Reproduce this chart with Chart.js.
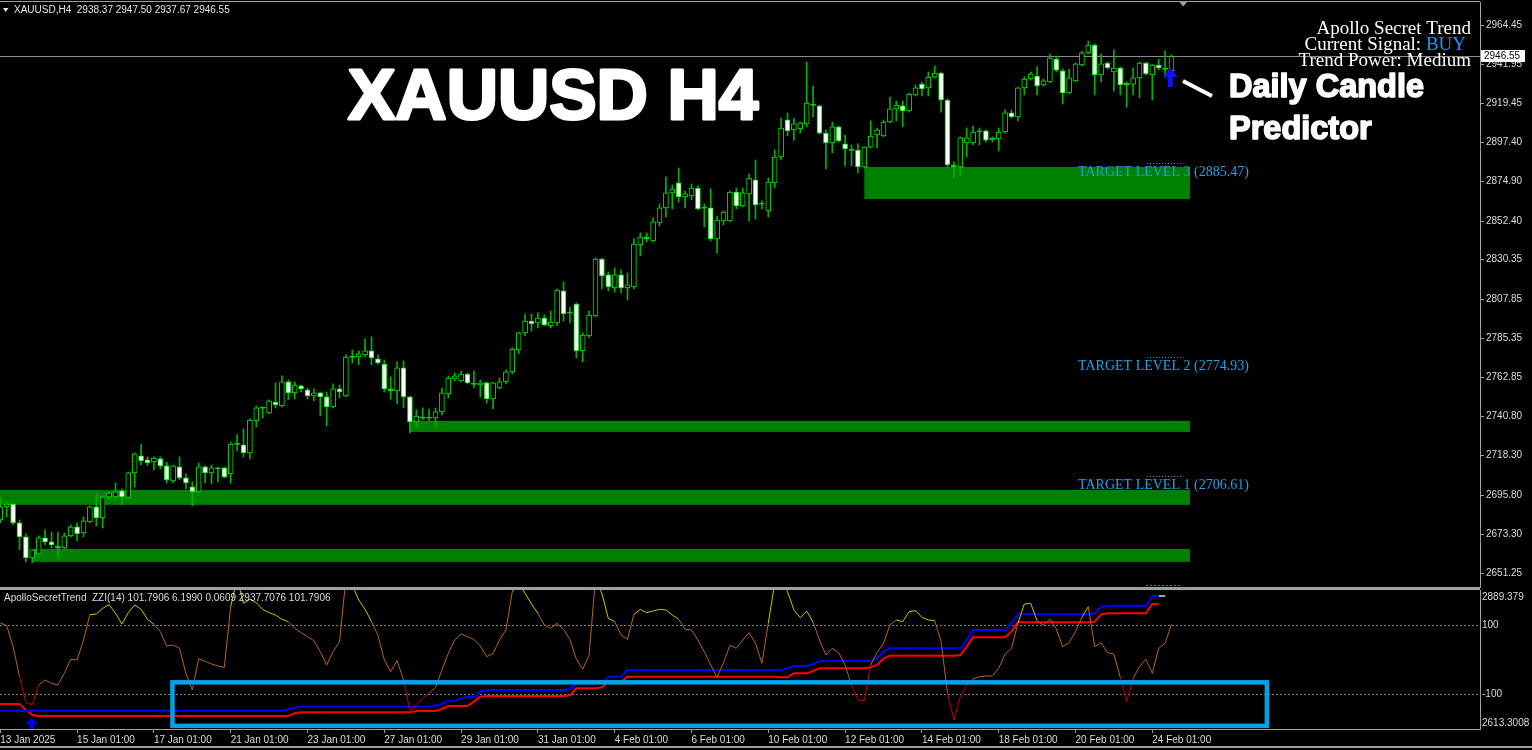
<!DOCTYPE html>
<html>
<head>
<meta charset="utf-8">
<title>XAUUSD H4</title>
<script src="https://cdn.jsdelivr.net/npm/chart.js@4.4.1/dist/chart.umd.min.js"></script>
<style>
    html, body { margin: 0; padding: 0; background: #000; }
    #wrap { position: relative; width: 1532px; height: 750px; background: #000; overflow: hidden; }
    canvas { position: absolute; left: 0; }
</style>
</head>
<body>
<div id="wrap">
    <canvas id="main" width="1532" height="589" style="top:0"></canvas>
    <canvas id="ind" width="1532" height="161" style="top:589px"></canvas>
</div>
<script>
// H4 candles, 13 Jan 2025 01:00 .. 24 Feb 2025 13:00
const opens = [
    2681.6, 2689.0, 2690.7, 2679.9, 2671.9, 2659.9, 2662.2, 2671.3, 2669.0, 2666.7,
    2665.6, 2672.5, 2677.6, 2674.2, 2680.5, 2689.0, 2682.7, 2694.7, 2694.7, 2698.2,
    2694.2, 2708.5, 2718.2, 2715.9, 2714.7, 2716.5, 2712.5, 2703.9, 2711.9, 2705.6,
    2700.5, 2697.6, 2711.9, 2708.5, 2711.3, 2711.3, 2707.9, 2725.0, 2724.5, 2719.9,
    2738.2, 2745.6, 2742.7, 2749.0, 2746.7, 2760.5, 2754.2, 2758.2, 2755.9, 2752.5,
    2754.2, 2751.9, 2746.2, 2756.5, 2752.5, 2774.7, 2774.7, 2775.9, 2778.2, 2773.6,
    2770.7, 2756.5, 2755.3, 2768.5, 2751.9, 2737.6, 2739.9, 2739.7, 2739.9, 2743.3,
    2753.6, 2762.2, 2761.0, 2765.0, 2759.3, 2758.7, 2759.9, 2750.7, 2757.0, 2760.5,
    2766.2, 2778.7, 2788.5, 2795.3, 2794.2, 2797.0, 2792.5, 2794.2, 2812.5, 2799.9,
    2805.0, 2778.2, 2786.7, 2798.2, 2830.7, 2821.6, 2814.2, 2821.6, 2814.2, 2814.7,
    2838.7, 2843.3, 2841.0, 2851.3, 2859.9, 2868.5, 2874.2, 2866.2, 2866.7, 2871.3,
    2859.9, 2859.9, 2842.2, 2852.5, 2852.5, 2869.0, 2861.0, 2867.9, 2875.9, 2862.2,
    2858.2, 2874.2, 2889.0, 2910.2, 2904.5, 2905.0, 2907.9, 2918.7, 2918.2, 2902.7,
    2897.0, 2906.2, 2896.5, 2893.0, 2893.0, 2883.3, 2894.7, 2901.6, 2901.0, 2909.0,
    2916.5, 2918.2, 2915.3, 2924.5, 2930.7, 2928.5, 2934.7, 2937.0, 2921.6, 2884.5,
    2883.3, 2897.0, 2897.0, 2903.9, 2903.9, 2899.3, 2899.3, 2903.3, 2914.2, 2911.9,
    2928.5, 2933.6, 2935.3, 2930.2, 2931.9, 2945.0, 2938.2, 2925.6, 2932.5, 2941.6,
    2948.5, 2953.0, 2935.9, 2942.7, 2937.6, 2939.9, 2930.2, 2930.7, 2934.2, 2942.7,
    2935.9, 2941.6, 2939.3, 2938.37
];
const highs = [
    2694.2, 2691.9, 2691.3, 2681.6, 2673.6, 2664.5, 2672.5, 2675.9, 2674.7, 2674.7,
    2674.2, 2678.7, 2679.9, 2683.3, 2689.6, 2696.5, 2695.3, 2697.6, 2702.7, 2699.3,
    2709.0, 2719.9, 2725.0, 2717.6, 2717.6, 2717.6, 2714.7, 2713.0, 2717.6, 2707.9,
    2703.3, 2714.2, 2712.5, 2713.0, 2711.8, 2711.8, 2726.2, 2730.2, 2733.6, 2739.3,
    2746.7, 2746.2, 2750.2, 2759.9, 2763.9, 2761.6, 2760.5, 2758.7, 2757.0, 2756.5,
    2754.7, 2754.7, 2759.3, 2758.7, 2775.9, 2778.7, 2778.2, 2785.0, 2786.2, 2775.9,
    2773.0, 2763.3, 2771.9, 2772.5, 2752.4, 2744.5, 2745.6, 2745.0, 2745.6, 2757.0,
    2763.9, 2765.6, 2766.7, 2765.6, 2766.7, 2761.6, 2760.4, 2760.2, 2762.7, 2767.3,
    2779.9, 2789.0, 2799.3, 2799.3, 2799.9, 2798.7, 2801.0, 2813.6, 2817.6, 2803.3,
    2805.6, 2788.5, 2801.0, 2831.3, 2831.3, 2823.3, 2825.6, 2824.5, 2822.7, 2842.2,
    2845.6, 2845.6, 2854.2, 2862.2, 2877.6, 2873.0, 2882.7, 2869.6, 2873.6, 2872.5,
    2862.2, 2870.7, 2855.3, 2858.2, 2869.6, 2871.3, 2871.3, 2879.3, 2887.3, 2863.9,
    2877.0, 2893.0, 2911.3, 2914.2, 2911.3, 2909.0, 2943.3, 2929.6, 2918.7, 2904.5,
    2909.0, 2906.7, 2901.6, 2895.9, 2896.5, 2894.9, 2909.6, 2905.6, 2910.2, 2923.3,
    2921.0, 2921.0, 2925.6, 2930.2, 2931.9, 2937.6, 2941.0, 2937.6, 2922.2, 2886.2,
    2900.5, 2905.6, 2906.7, 2905.6, 2904.5, 2900.5, 2905.6, 2915.9, 2915.9, 2929.0,
    2934.7, 2937.6, 2940.5, 2933.6, 2947.9, 2946.7, 2939.3, 2939.3, 2942.7, 2949.6,
    2955.3, 2953.6, 2947.9, 2943.3, 2950.2, 2940.5, 2931.9, 2939.9, 2943.3, 2943.3,
    2941.9, 2945.0, 2949.6, 2947.50
];
const lows = [
    2679.9, 2683.3, 2678.7, 2664.5, 2657.6, 2657.0, 2661.6, 2667.3, 2665.6, 2659.9,
    2665.0, 2671.9, 2669.6, 2671.9, 2679.9, 2678.2, 2677.0, 2693.0, 2693.0, 2690.2,
    2693.8, 2700.5, 2713.0, 2712.5, 2710.2, 2710.7, 2702.7, 2702.7, 2704.5, 2699.3,
    2689.6, 2697.0, 2702.7, 2702.2, 2703.3, 2705.6, 2702.7, 2721.0, 2717.6, 2716.5,
    2734.7, 2739.9, 2742.2, 2745.6, 2746.2, 2750.2, 2750.7, 2754.7, 2750.7, 2749.6,
    2741.0, 2735.3, 2745.8, 2751.3, 2752.0, 2771.3, 2770.2, 2774.7, 2770.2, 2770.7,
    2754.7, 2750.7, 2747.9, 2745.6, 2731.3, 2734.7, 2738.7, 2738.2, 2734.7, 2741.6,
    2751.3, 2761.0, 2760.5, 2759.3, 2757.0, 2751.9, 2748.5, 2745.0, 2756.5, 2759.3,
    2765.0, 2776.5, 2786.7, 2789.6, 2791.3, 2792.5, 2791.3, 2792.5, 2795.3, 2794.2,
    2774.2, 2771.9, 2785.6, 2797.8, 2813.6, 2812.5, 2811.9, 2811.3, 2807.3, 2813.6,
    2832.5, 2840.5, 2840.5, 2849.6, 2854.7, 2859.3, 2863.3, 2859.9, 2864.5, 2858.7,
    2849.0, 2841.0, 2834.2, 2850.2, 2852.0, 2859.3, 2860.5, 2852.5, 2853.6, 2859.3,
    2854.7, 2871.3, 2887.3, 2901.0, 2898.7, 2902.7, 2906.2, 2911.9, 2902.2, 2882.2,
    2891.3, 2897.6, 2883.9, 2883.9, 2879.9, 2882.7, 2894.2, 2894.2, 2900.5, 2908.5,
    2909.6, 2906.2, 2914.7, 2923.9, 2923.9, 2923.9, 2934.2, 2914.7, 2883.3, 2877.0,
    2878.7, 2889.0, 2895.9, 2895.9, 2897.6, 2897.6, 2892.5, 2902.7, 2911.3, 2909.6,
    2924.5, 2933.0, 2924.5, 2929.6, 2931.5, 2937.6, 2919.3, 2925.0, 2931.9, 2941.0,
    2947.9, 2924.5, 2931.9, 2939.3, 2926.7, 2924.5, 2917.6, 2924.5, 2922.7, 2935.9,
    2921.6, 2938.7, 2934.7, 2937.67
];
const closes = [
    2689.0, 2690.7, 2679.9, 2671.9, 2659.9, 2664.5, 2671.3, 2669.0, 2667.3, 2665.6,
    2672.5, 2677.6, 2673.6, 2681.0, 2689.0, 2682.7, 2694.7, 2697.0, 2697.6, 2694.7,
    2708.5, 2719.3, 2715.3, 2714.2, 2717.0, 2712.5, 2704.5, 2712.5, 2705.6, 2702.7,
    2697.6, 2711.9, 2708.5, 2711.3, 2710.7, 2706.2, 2725.0, 2724.8, 2719.9, 2738.7,
    2745.6, 2745.4, 2749.6, 2747.3, 2760.5, 2754.2, 2758.7, 2756.5, 2752.5, 2754.2,
    2751.9, 2746.2, 2756.5, 2754.7, 2774.7, 2774.5, 2776.5, 2778.2, 2774.2, 2771.3,
    2756.5, 2755.3, 2768.5, 2751.9, 2737.6, 2741.0, 2739.7, 2739.9, 2743.3, 2754.2,
    2762.7, 2763.9, 2765.0, 2759.9, 2759.1, 2759.9, 2750.7, 2759.9, 2760.5, 2766.2,
    2779.3, 2788.5, 2795.3, 2793.6, 2797.0, 2793.0, 2794.7, 2813.0, 2799.3, 2799.7,
    2778.2, 2787.3, 2798.7, 2830.7, 2821.0, 2814.7, 2821.6, 2814.2, 2815.9, 2839.3,
    2843.3, 2842.2, 2851.9, 2859.9, 2868.5, 2870.7, 2866.2, 2867.9, 2871.3, 2859.3,
    2859.7, 2842.2, 2853.0, 2857.6, 2869.0, 2861.0, 2868.5, 2877.0, 2861.6, 2862.0,
    2874.7, 2889.0, 2905.6, 2903.9, 2907.9, 2908.5, 2919.9, 2918.5, 2902.7, 2897.0,
    2906.2, 2898.2, 2893.6, 2892.8, 2883.3, 2894.7, 2901.0, 2904.5, 2909.0, 2916.5,
    2918.7, 2915.3, 2925.0, 2928.5, 2927.9, 2934.7, 2937.0, 2921.6, 2884.5, 2883.3,
    2899.9, 2899.9, 2903.3, 2903.3, 2898.7, 2899.1, 2903.3, 2914.2, 2911.9, 2928.5,
    2933.6, 2936.5, 2929.6, 2932.5, 2945.6, 2938.7, 2925.6, 2934.2, 2942.2, 2948.5,
    2953.0, 2935.9, 2942.2, 2939.9, 2939.9, 2930.2, 2931.3, 2934.2, 2942.7, 2936.5,
    2941.6, 2939.9, 2939.1, 2946.55
];

// ApolloSecretTrend window: ZZI oscillator and the two trend lines
const zzi = [
    105.8, 98.1, 37.2, -49.7, -125.0, -131.0, -73.9, -59.4, -69.1, -73.9,
    -40.1, 0.5, -1.4, 56.5, 129.9, 131.9, 148.3, 158.9, 133.8, 102.9,
    135.7, 158.0, 145.4, 116.4, 101.9, 80.7, 39.1, 42.0, 32.4, -40.1,
    -88.4, 2.4, -5.3, -13.0, -18.8, -22.7, 153.1, 235.0, 162.8, 174.4,
    164.7, 145.4, 135.7, 129.0, 116.4, 109.7, 90.3, 77.8, 66.2, 54.6,
    22.7, -15.9, 22.7, 51.7, 235.0, 215.9, 172.4, 145.4, 109.7, 71.0,
    -1.4, -35.3, -3.4, -59.4, -148.3, -131.9, -112.5, -98.0, -80.7, -30.4,
    17.9, 56.5, 73.9, 66.2, 58.4, 39.1, 8.2, 17.9, 56.5, 85.5,
    196.6, 225.6, 191.8, 160.8, 133.8, 100.0, 90.3, 104.8, 87.4, 58.4,
    1.5, -28.5, 13.1, 235.0, 191.8, 119.3, 109.7, 71.0, 58.4, 130.9,
    145.4, 135.7, 140.6, 145.4, 143.5, 129.0, 116.4, 87.4, 85.5, 56.5,
    22.7, -15.9, -51.7, -9.2, 41.1, 32.4, 56.5, 77.8, 46.9, -11.1,
    104.8, 220.7, 235.0, 196.6, 143.5, 121.2, 140.6, 107.7, 56.5, 13.1,
    32.4, 19.8, -15.9, -73.9, -117.4, -119.3, -15.9, 19.8, 46.9, 100.0,
    114.5, 109.7, 138.6, 141.5, 122.2, 114.5, 112.5, 51.7, -98.0, -175.3,
    -107.7, -73.9, -56.5, -49.7, -47.8, -47.8, -25.6, 16.0, 32.4, 104.8,
    160.8, 162.8, 112.5, 100.0, 117.4, 88.4, 37.2, 48.8, 80.7, 122.2,
    153.1, 37.2, 48.8, 19.8, 16.0, -51.7, -122.2, -54.6, -20.8, 0.5,
    -40.1, 32.4, 46.9, 101.79
];
const trendBlue = [
    2649.7, 2649.7, 2649.7, 2649.7, 2649.7, 2649.7, 2649.7, 2649.7, 2649.7, 2649.7,
    2649.7, 2649.7, 2649.7, 2649.7, 2649.7, 2649.7, 2649.7, 2649.7, 2649.7, 2649.7,
    2649.7, 2649.7, 2649.7, 2649.7, 2649.7, 2649.7, 2649.7, 2649.7, 2649.7, 2649.7,
    2649.7, 2649.7, 2649.7, 2649.7, 2649.7, 2649.7, 2649.7, 2649.7, 2649.7, 2649.7,
    2649.7, 2649.7, 2649.7, 2649.7, 2649.7, 2652.4, 2655.7, 2657.7, 2657.7, 2657.7,
    2657.7, 2657.7, 2657.7, 2657.7, 2657.7, 2657.7, 2657.7, 2657.7, 2657.7, 2657.7,
    2657.7, 2657.7, 2657.7, 2657.7, 2657.7, 2657.7, 2657.7, 2657.7, 2660.3, 2663.0,
    2669.6, 2669.6, 2674.2, 2677.5, 2677.5, 2687.5, 2690.8, 2690.8, 2690.8, 2690.8,
    2690.8, 2690.8, 2690.8, 2690.8, 2690.8, 2690.8, 2690.8, 2690.8, 2690.8, 2692.1,
    2704.0, 2704.0, 2704.0, 2704.0, 2704.0, 2717.2, 2717.2, 2717.2, 2730.5, 2730.5,
    2730.5, 2730.5, 2730.5, 2730.5, 2730.5, 2730.5, 2730.5, 2730.5, 2730.5, 2730.5,
    2730.5, 2730.5, 2730.5, 2730.5, 2730.5, 2730.5, 2730.5, 2730.5, 2730.5, 2730.5,
    2730.5, 2730.5, 2730.5, 2733.8, 2738.4, 2738.4, 2738.4, 2742.4, 2748.4, 2748.4,
    2748.4, 2748.4, 2748.4, 2748.4, 2748.4, 2748.4, 2748.4, 2753.7, 2766.9, 2773.5,
    2773.5, 2773.5, 2773.5, 2773.5, 2773.5, 2773.5, 2773.5, 2773.5, 2773.5, 2773.5,
    2773.5, 2790.1, 2809.9, 2809.9, 2809.9, 2809.9, 2809.9, 2809.9, 2823.2, 2841.0,
    2841.0, 2841.0, 2841.0, 2841.0, 2841.0, 2841.0, 2841.0, 2841.0, 2841.0, 2841.0,
    2841.0, 2843.0, 2856.3, 2858.3, 2858.3, 2858.3, 2858.3, 2858.3, 2858.3, 2858.3,
    2877.5, 2877.5, null, null
];
const trendRed = [
    2662.9, 2662.9, 2662.9, 2662.9, 2651.0, 2641.1, 2639.1, 2639.1, 2639.1, 2639.1,
    2639.1, 2639.1, 2639.1, 2639.1, 2639.1, 2639.1, 2639.1, 2639.1, 2639.1, 2639.1,
    2639.1, 2639.1, 2639.1, 2639.1, 2639.1, 2639.1, 2639.1, 2639.1, 2639.1, 2639.1,
    2639.1, 2639.1, 2639.1, 2639.1, 2639.1, 2639.1, 2639.1, 2639.1, 2639.1, 2639.1,
    2639.1, 2639.1, 2639.1, 2639.1, 2639.1, 2639.1, 2644.4, 2646.4, 2646.4, 2646.4,
    2646.4, 2646.4, 2646.4, 2646.4, 2646.4, 2646.4, 2646.4, 2646.4, 2646.4, 2646.4,
    2646.4, 2646.4, 2646.4, 2646.4, 2646.4, 2649.1, 2649.1, 2649.1, 2649.1, 2653.0,
    2659.0, 2659.0, 2659.0, 2659.0, 2667.6, 2677.5, 2678.8, 2678.8, 2678.8, 2678.8,
    2678.8, 2678.8, 2678.8, 2678.8, 2678.8, 2678.8, 2678.8, 2678.8, 2678.8, 2680.2,
    2694.1, 2694.1, 2694.1, 2694.1, 2696.1, 2707.3, 2707.3, 2707.3, 2717.2, 2717.2,
    2717.2, 2717.2, 2717.2, 2717.2, 2717.2, 2717.2, 2717.2, 2717.2, 2717.2, 2717.2,
    2717.2, 2717.2, 2717.2, 2717.2, 2717.2, 2717.2, 2717.2, 2717.2, 2717.2, 2717.2,
    2717.2, 2717.2, 2715.9, 2715.9, 2723.9, 2723.9, 2723.9, 2728.5, 2733.8, 2733.8,
    2733.8, 2733.8, 2733.8, 2733.8, 2733.8, 2733.8, 2735.8, 2740.4, 2753.0, 2759.0,
    2759.0, 2759.0, 2759.0, 2759.0, 2759.0, 2759.0, 2759.0, 2759.0, 2759.0, 2759.0,
    2760.3, 2776.8, 2795.4, 2795.4, 2795.4, 2795.4, 2795.4, 2795.4, 2806.6, 2825.2,
    2825.2, 2825.2, 2825.2, 2825.2, 2825.2, 2825.2, 2825.2, 2825.2, 2825.2, 2825.2,
    2825.2, 2826.5, 2841.0, 2843.0, 2843.0, 2843.0, 2843.0, 2843.0, 2843.0, 2843.0,
    2861.6, 2861.6, null, null
];
const tailBars = [181, 182];
const tailValues = [2877.5, 2877.5];

// axis ticks
const priceTicks = [2964.45, 2941.95, 2919.45, 2897.40, 2874.90, 2852.40, 2830.35, 2807.85,
    2785.35, 2762.85, 2740.80, 2718.30, 2695.80, 2673.30, 2651.25];
const oscLevels = [100, -100];
const timeTickBars = [0, 12, 24, 36, 48, 60, 72, 84, 96, 108, 120, 132, 144, 156, 168, 180];
const timeTickLabels = ['13 Jan 2025', '15 Jan 01:00', '17 Jan 01:00', '21 Jan 01:00', '23 Jan 01:00',
    '27 Jan 01:00', '29 Jan 01:00', '31 Jan 01:00', '4 Feb 01:00', '6 Feb 01:00', '10 Feb 01:00',
    '12 Feb 01:00', '14 Feb 01:00', '18 Feb 01:00', '20 Feb 01:00', '24 Feb 01:00'];

// green zones (bar where they start, upper and lower price)
const zoneFrom = [135, 64, -5, 5];
const zoneTo = 185.9;
const zoneHigh = [2883.3, 2738.2, 2698.7, 2665.0];
const zoneLow = [2865.0, 2731.9, 2690.2, 2657.6];

const targetPrices = [2885.47, 2774.93, 2706.61];
const targetNames = ['TARGET LEVEL 3', 'TARGET LEVEL 2', 'TARGET LEVEL 1'];

const lime = '#00e600';
const wickGreen = '#00b400';
const textGray = '#dcdcdc';
const lineGray = '#a0a0a0';
const axisFont = { family: 'Liberation Sans', size: 10 };
const bars = opens.map((o, i) => i);
const xMin = -0.3 / 6.4;
const xMax = (1480 - 0.3) / 6.4;

function fixRightAxis(s) {
    s.width = 52;
    s.paddingTop = 0;
    s.paddingBottom = 0;
}

function bodyColor(i) {
    if (i === undefined) return '#000';
    if (Math.abs(closes[i] - opens[i]) < 1.2) return lime;
    return closes[i] >= opens[i] ? '#000' : '#fff';
}

function upArrow(ctx, cx, tipY, headW, headH, stemW, stemH, color) {
    ctx.fillStyle = color;
    ctx.beginPath();
    ctx.moveTo(cx, tipY);
    ctx.lineTo(cx + headW / 2, tipY + headH);
    ctx.lineTo(cx + stemW / 2, tipY + headH);
    ctx.lineTo(cx + stemW / 2, tipY + headH + stemH);
    ctx.lineTo(cx - stemW / 2, tipY + headH + stemH);
    ctx.lineTo(cx - stemW / 2, tipY + headH);
    ctx.lineTo(cx - headW / 2, tipY + headH);
    ctx.closePath();
    ctx.fill();
}

// heavy white caption text
function boldText(ctx, txt, x, y, font, weight) {
    ctx.font = font;
    ctx.fillStyle = '#ffffff';
    ctx.strokeStyle = '#ffffff';
    ctx.lineWidth = weight;
    ctx.lineJoin = 'round';
    ctx.strokeText(txt, x, y);
    ctx.fillText(txt, x, y);
}

const mainBack = {
    id: 'mainBack',
    beforeDatasetsDraw(chart) {
        const { ctx, chartArea: a, scales: { x, y } } = chart;
        ctx.save();
        ctx.beginPath();
        ctx.rect(a.left, a.top, a.width, a.height);
        ctx.clip();
        ctx.fillStyle = '#008000';
        zoneFrom.forEach((b, i) => {
            const x0 = x.getPixelForValue(b), x1 = x.getPixelForValue(zoneTo);
            const y0 = y.getPixelForValue(zoneHigh[i]), y1 = y.getPixelForValue(zoneLow[i]);
            ctx.fillRect(x0, y0, x1 - x0, y1 - y0);
        });
        // bid line
        const by = Math.round(y.getPixelForValue(closes[closes.length - 1])) + 0.5;
        ctx.strokeStyle = '#8c8c8c';
        ctx.lineWidth = 1;
        ctx.beginPath();
        ctx.moveTo(a.left, by);
        ctx.lineTo(a.right, by);
        ctx.stroke();
        ctx.restore();
    }
};

const mainFront = {
    id: 'mainFront',
    afterDraw(chart) {
        const { ctx, chartArea: a, scales: { x, y } } = chart;
        ctx.save();

        // frame
        ctx.fillStyle = lineGray;
        ctx.fillRect(0, 1, a.right, 1);
        ctx.fillRect(0, 587, a.right, 2);
        ctx.beginPath();
        ctx.moveTo(1179.5, 2); ctx.lineTo(1187, 2); ctx.lineTo(1183.2, 6.5);
        ctx.fill();

        // target levels
        ctx.font = '14px "Liberation Serif"';
        ctx.textAlign = 'left';
        ctx.textBaseline = 'alphabetic';
        targetPrices.forEach((p, i) => {
            const ty = Math.round(y.getPixelForValue(p)) + 0.5;
            ctx.strokeStyle = '#3aa8e8';
            ctx.lineWidth = 1;
            ctx.setLineDash([1, 2]);
            ctx.beginPath();
            ctx.moveTo(x.getPixelForValue(179.2), ty);
            ctx.lineTo(x.getPixelForValue(184.6), ty);
            ctx.stroke();
            ctx.setLineDash([]);
            ctx.fillStyle = '#1ca2e6';
            ctx.fillText(targetNames[i] + ' (' + p.toFixed(2) + ')', x.getPixelForValue(168.4), ty + 12.5);
        });
        ctx.strokeStyle = '#00c000';
        ctx.setLineDash([2, 2]);
        ctx.beginPath();
        ctx.moveTo(x.getPixelForValue(179.0), 585.5);
        ctx.lineTo(x.getPixelForValue(184.6), 585.5);
        ctx.stroke();
        ctx.setLineDash([]);

        // header
        ctx.fillStyle = '#e6e6e6';
        ctx.font = '10px "Liberation Sans"';
        ctx.textBaseline = 'middle';
        ctx.fillText('XAUUSD,H4  2938.37 2947.50 2937.67 2946.55', 14, 10);
        ctx.beginPath();
        ctx.moveTo(3, 8); ctx.lineTo(8.5, 8); ctx.lineTo(5.7, 12);
        ctx.fill();

        // title texts
        ctx.textBaseline = 'alphabetic';
        boldText(ctx, 'XAUUSD H4', 348, 119, 'bold 71px "Liberation Sans"', 3);
        boldText(ctx, 'Daily Candle', 1229, 97, 'bold 32.5px "Liberation Sans"', 1.6);
        boldText(ctx, 'Predictor', 1229, 139, 'bold 32.5px "Liberation Sans"', 1.6);

        // pointer
        ctx.strokeStyle = '#ffffff';
        ctx.lineWidth = 4;
        ctx.lineCap = 'butt';
        ctx.beginPath();
        ctx.moveTo(1183, 81);
        ctx.lineTo(1212, 96);
        ctx.stroke();

        // signal arrow on last bars
        upArrow(ctx, x.getPixelForValue(182.8), y.getPixelForValue(2939.9), 15, 9, 5, 10, '#1010ff');

        // indicator info
        ctx.font = '19px "Liberation Serif"';
        ctx.textAlign = 'right';
        ctx.fillStyle = '#ffffff';
        ctx.fillText('Apollo Secret Trend', 1471, 34);
        ctx.fillStyle = '#1e90ff';
        ctx.fillText('BUY', 1466, 50);
        const wBuy = ctx.measureText('BUY').width;
        ctx.fillStyle = '#ffffff';
        ctx.fillText('Current Signal: ', 1466 - wBuy, 50);
        ctx.fillText('Trend Power: Medium', 1471, 66);

        // bid price tag
        const by = Math.round(y.getPixelForValue(closes[closes.length - 1]));
        ctx.fillStyle = '#ffffff';
        ctx.fillRect(a.right + 1, by - 6, 44, 12);
        ctx.fillStyle = '#000000';
        ctx.textAlign = 'left';
        ctx.textBaseline = 'middle';
        ctx.font = '10px "Liberation Sans"';
        ctx.fillText(closes[closes.length - 1].toFixed(2), a.right + 4, by);
        ctx.restore();
    }
};

new Chart(document.getElementById('main'), {
    type: 'bar',
    data: {
        datasets: [{
            label: 'body',
            order: 1,
            grouped: false,
            barThickness: 5,
            minBarLength: 1,
            data: bars.map(i => ({ x: i, y: [Math.min(opens[i], closes[i]), Math.max(opens[i], closes[i])] })),
            backgroundColor: c => bodyColor(c.dataIndex),
            borderColor: lime,
            borderWidth: 1,
            borderSkipped: false
        }, {
            label: 'wick',
            order: 2,
            grouped: false,
            barThickness: 1,
            data: bars.map(i => ({ x: i, y: [lows[i], highs[i]] })),
            backgroundColor: wickGreen,
            borderWidth: 0
        }]
    },
    options: {
        responsive: false,
        animation: false,
        events: [],
        layout: { padding: { top: 2, bottom: 2, left: 0, right: 0 } },
        plugins: { legend: { display: false }, tooltip: { enabled: false } },
        scales: {
            x: { type: 'linear', min: xMin, max: xMax, display: false, offset: false },
            y: {
                position: 'right',
                min: 2643.25,
                max: 2977.6,
                afterBuildTicks: s => { s.ticks = priceTicks.map(v => ({ value: v })); },
                afterFit: fixRightAxis,
                ticks: { color: textGray, font: axisFont, padding: 2, callback: v => v.toFixed(2) },
                grid: { drawOnChartArea: false, tickLength: 4, color: lineGray },
                border: { color: lineGray }
            }
        }
    },
    plugins: [mainBack, mainFront]
});

// indicator window
const oscYellow = '#c8c800';
const oscBrown = '#b8641e';
const oscRed = '#c00000';

function oscColor(a, b) {
    if (a > 100 && b > 100) return oscYellow;
    if (a < -100 || b < -100) return oscRed;
    return oscBrown;
}

const indBack = {
    id: 'indBack',
    beforeDatasetsDraw(chart) {
        const { ctx, chartArea: a, scales } = chart;
        ctx.save();
        ctx.strokeStyle = '#808080';
        ctx.lineWidth = 1;
        ctx.setLineDash([2, 2]);
        oscLevels.forEach(v => {
            const ly = Math.round(scales.yOsc.getPixelForValue(v)) + 0.5;
            ctx.beginPath();
            ctx.moveTo(a.left, ly);
            ctx.lineTo(a.right, ly);
            ctx.stroke();
        });
        ctx.restore();
    }
};

const indFront = {
    id: 'indFront',
    afterDraw(chart) {
        const { ctx, chartArea: a, scales } = chart;
        const x = scales.x, yo = scales.yOsc, yp = scales.yPrice;
        ctx.save();
        ctx.fillStyle = lineGray;
        ctx.fillRect(0, 0, a.right, 1);
        ctx.fillRect(0, 157, 1532, 2);

        ctx.font = '10px "Liberation Sans"';
        ctx.textBaseline = 'middle';
        ctx.fillStyle = textGray;
        ctx.fillText('ApolloSecretTrend  ZZI(14) 101.7906 6.1990 0.0609 2937.7076 101.7906', 4, 9);
        ctx.fillText(yp.max.toFixed(3), a.right + 2, a.top + 7);
        ctx.fillText(yp.min.toFixed(4), a.right + 2, a.bottom - 6);

        // buy signal arrow
        upArrow(ctx, x.getPixelForValue(4.9), yo.getPixelForValue(-169.6), 13, 6.3, 4.5, 4.3, '#0000ff');

        // highlight box
        const x0 = x.getPixelForValue(26.9), x1 = x.getPixelForValue(197.9);
        const y0 = yo.getPixelForValue(-66.1), y1 = yo.getPixelForValue(-192.2);
        ctx.strokeStyle = '#00a2e8';
        ctx.lineWidth = 4.5;
        ctx.strokeRect(x0, y0, x1 - x0, y1 - y0);
        ctx.restore();
    }
};

new Chart(document.getElementById('ind'), {
    type: 'line',
    data: {
        datasets: [{
            label: 'ZZI',
            yAxisID: 'yOsc',
            order: 1,
            data: bars.map(i => ({ x: i, y: zzi[i] })),
            borderColor: oscBrown,
            borderWidth: 1,
            pointRadius: 0,
            tension: 0,
            segment: { borderColor: s => oscColor(s.p0.parsed.y, s.p1.parsed.y) }
        }, {
            label: 'up',
            yAxisID: 'yPrice',
            order: 2,
            data: bars.map(i => ({ x: i, y: trendBlue[i] })),
            borderColor: '#0000ff',
            borderWidth: 2,
            pointRadius: 0,
            tension: 0
        }, {
            label: 'down',
            yAxisID: 'yPrice',
            order: 3,
            data: bars.map(i => ({ x: i, y: trendRed[i] })),
            borderColor: '#ff0000',
            borderWidth: 2,
            pointRadius: 0,
            tension: 0
        }, {
            label: 'tail',
            yAxisID: 'yPrice',
            order: 2,
            data: tailBars.map((b, i) => ({ x: b, y: tailValues[i] })),
            borderColor: '#a0a0a0',
            borderWidth: 2,
            pointRadius: 0
        }]
    },
    options: {
        responsive: false,
        animation: false,
        events: [],
        layout: { padding: { top: 1, bottom: 0, left: 0, right: 0 } },
        plugins: { legend: { display: false }, tooltip: { enabled: false } },
        scales: {
            x: {
                type: 'linear',
                min: xMin,
                max: xMax,
                position: 'bottom',
                afterBuildTicks: s => { s.ticks = timeTickBars.map(v => ({ value: v })); },
                afterFit: s => { s.height = 21; s.paddingLeft = 0; s.paddingRight = 0; },
                ticks: {
                    color: textGray, font: axisFont, align: 'start', autoSkip: false,
                    minRotation: 0, maxRotation: 0, padding: 1,
                    callback: (v, i) => timeTickLabels[i]
                },
                grid: { drawOnChartArea: false, tickLength: 4, color: lineGray },
                border: { color: lineGray }
            },
            yOsc: {
                position: 'right',
                min: -201.4,
                max: 201.4,
                afterBuildTicks: s => { s.ticks = oscLevels.map(v => ({ value: v })); },
                afterFit: fixRightAxis,
                ticks: { color: textGray, font: axisFont, padding: 2 },
                grid: { drawOnChartArea: false, drawTicks: false },
                border: { color: lineGray }
            },
            yPrice: { display: false, min: 2613.3008, max: 2889.379 }
        }
    },
    plugins: [indBack, indFront]
});
</script>
</body>
</html>
